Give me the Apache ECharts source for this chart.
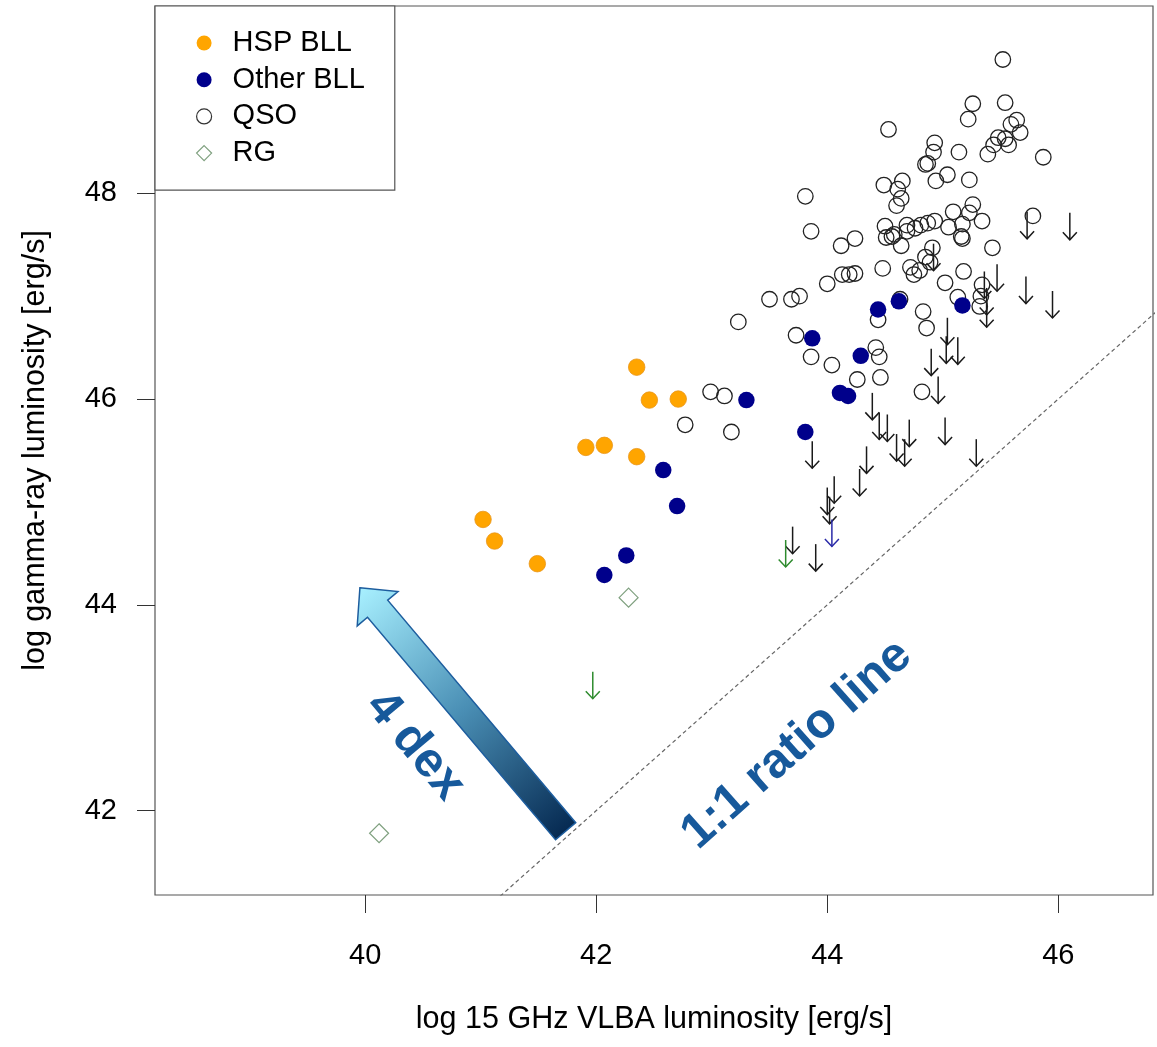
<!DOCTYPE html>
<html><head><meta charset="utf-8">
<script src="https://cdn.jsdelivr.net/npm/echarts@6/dist/echarts.min.js"></script>
<style>html,body{margin:0;padding:0;background:#fff}#c{width:1157px;height:1047px}</style>
</head><body><div id="c"></div>
<script>
const xTicks = [40, 42, 44, 46];
const yTicks = [42, 44, 46, 48];
const xRange = [38.18, 46.82];
const yRange = [41.18, 49.82];

const hspBll = [[42.35,46.31],[42.46,45.99],[42.71,46.00],[41.91,45.53],[42.07,45.55],[42.35,45.44],[41.02,44.83],[41.12,44.62],[41.49,44.40]];

const otherBll = [[44.62,46.95],[44.44,46.87],[45.17,46.91],[43.87,46.59],[44.29,46.42],[44.11,46.06],[44.18,46.03],[43.81,45.68],[43.30,45.99],[42.58,45.31],[42.70,44.96],[42.26,44.48],[42.07,44.29]];

const qso = [[45.52,49.30],[45.26,48.87],[45.54,48.88],[45.22,48.72],[45.59,48.67],[45.64,48.71],[45.67,48.59],[44.53,48.62],[44.93,48.49],[44.92,48.40],[45.14,48.40],[45.48,48.54],[45.54,48.53],[45.57,48.47],[45.44,48.47],[45.39,48.38],[45.87,48.35],[44.85,48.28],[44.87,48.29],[45.04,48.18],[44.94,48.12],[45.23,48.13],[44.49,48.08],[44.65,48.12],[44.61,48.04],[44.64,47.95],[44.60,47.88],[43.81,47.97],[45.26,47.89],[45.09,47.82],[45.23,47.81],[45.34,47.73],[45.78,47.78],[43.86,47.63],[44.50,47.68],[44.51,47.57],[44.56,47.58],[44.58,47.60],[44.69,47.69],[44.69,47.63],[44.76,47.66],[44.81,47.69],[44.87,47.71],[44.93,47.73],[45.05,47.67],[45.17,47.70],[45.16,47.58],[45.17,47.56],[44.64,47.49],[44.12,47.49],[44.24,47.56],[44.91,47.47],[45.43,47.47],[44.85,47.38],[44.89,47.33],[44.48,47.27],[44.72,47.28],[44.75,47.21],[44.80,47.25],[45.02,47.13],[45.18,47.24],[44.00,47.12],[44.13,47.21],[44.19,47.21],[44.24,47.22],[45.34,47.11],[43.50,46.97],[43.69,46.97],[43.76,47.00],[45.13,46.99],[45.33,47.00],[45.32,46.90],[44.63,46.97],[44.44,46.77],[44.83,46.85],[44.86,46.69],[43.73,46.62],[43.86,46.41],[44.04,46.33],[44.42,46.50],[44.45,46.41],[44.26,46.19],[44.46,46.21],[44.82,46.07],[43.23,46.75],[42.99,46.07],[43.11,46.03],[42.77,45.75],[43.17,45.68]];

const rg = [[42.28,44.07],[40.12,41.78]];

const qsoUpper = [[45.73,47.82],[46.10,47.81],[44.92,47.51],[45.47,47.31],[45.36,47.24],[45.38,47.08],[45.38,46.96],[45.72,47.19],[45.95,47.05],[45.04,46.79],[45.03,46.61],[45.13,46.60],[44.90,46.49],[44.96,46.22],[44.39,46.06],[44.45,45.87],[44.52,45.85],[44.71,45.80],[45.02,45.82],[44.60,45.66],[44.67,45.61],[45.29,45.61],[43.87,45.59],[44.34,45.54],[44.28,45.32],[44.06,45.25],[44.00,45.14],[44.02,45.05],[43.70,44.76],[43.90,44.59]];
const otherBllUpper = [[44.04,44.83]];
const rgUpper = [[43.64,44.63],[41.97,43.35]];

const ratioLine = [[38,38],[47,47]];
const dexArrow = [[41.735,41.80,39.954,44.166]];
const dexLabel = [[40.43,42.63]];
const ratioLabel = [[43.737,42.642]];

const FONT = 'Liberation Sans';
const chart = echarts.init(document.getElementById('c'), null, {renderer:'canvas'});

function ulRender(color){
  return function(params, api){
    const p = api.coord([api.value(0), api.value(1)]);
    const L = 27, hw = 7, hh = 7.5;
    return {type:'group', children:[
      {type:'line', shape:{x1:p[0], y1:p[1], x2:p[0], y2:p[1]+L}, style:{stroke:color, lineWidth:1.5}},
      {type:'polyline', shape:{points:[[p[0]-hw,p[1]+L-hh],[p[0],p[1]+L],[p[0]+hw,p[1]+L-hh]]}, style:{stroke:color, lineWidth:1.5, fill:null}}
    ]};
  };
}
function textRender(txt, rot){
  return function(params, api){
    const p = api.coord([api.value(0), api.value(1)]);
    return {type:'text', x:p[0], y:p[1], rotation:rot,
      style:{text:txt, font:'bold 49px "Liberation Sans"', fill:'#17599b', align:'center', verticalAlign:'middle'}};
  };
}

const option = {
  animation:false,
  grid:{left:155, right:4, top:6, bottom:152, show:true, borderColor:'#555', borderWidth:1.2, backgroundColor:'transparent', outerBoundsMode:'none'},
  legend:{
    left:155, top:6, orient:'vertical', selectedMode:false,
    padding:[22,30,22,41], itemWidth:15, itemHeight:15, itemGap:6.7,
    backgroundColor:'#fff', borderColor:'#555', borderWidth:1.2,
    textStyle:{fontFamily:FONT, fontSize:29, color:'#000', lineHeight:30, padding:[0,0,0,16]},
    data:[
      {name:'HSP BLL', icon:'circle', itemStyle:{color:'#FFA500', borderWidth:0, opacity:1}},
      {name:'Other BLL', icon:'circle', itemStyle:{color:'#00008B', borderWidth:0, opacity:1}},
      {name:'QSO', icon:'circle', itemStyle:{color:'#fff', borderColor:'#333', borderWidth:1.2, opacity:1}},
      {name:'RG', icon:'diamond', itemStyle:{color:'#fff', borderColor:'#7fa07f', borderWidth:1.2, opacity:1}}
    ]
  },
  xAxis:{type:'value', min:xRange[0], max:xRange[1],
    splitLine:{show:false}, axisLine:{show:false},
    axisTick:{show:true, length:18, customValues:xTicks, lineStyle:{color:'#333', width:1}},
    axisLabel:{customValues:xTicks, margin:46, fontSize:29, fontFamily:FONT, color:'#000'},
    name:'log 15 GHz VLBA luminosity [erg/s]', nameLocation:'middle', nameGap:109,
    nameTextStyle:{fontFamily:FONT, fontSize:30.5, color:'#000'}},
  yAxis:{type:'value', min:yRange[0], max:yRange[1],
    splitLine:{show:false}, axisLine:{show:false},
    axisTick:{show:true, length:18, customValues:yTicks, lineStyle:{color:'#333', width:1}},
    axisLabel:{customValues:yTicks, margin:38, fontSize:29, fontFamily:FONT, color:'#000'},
    name:'log gamma-ray luminosity [erg/s]', nameLocation:'middle', nameGap:104, nameRotate:90,
    nameTextStyle:{fontFamily:FONT, fontSize:30.5, color:'#000'}},
  series:[
    {type:'line', data:ratioLine, symbol:'none', silent:true, clip:true,
      lineStyle:{color:'#666', width:1.2, type:[4,3]}},
    {name:'QSO', type:'scatter', data:qso, symbol:'circle', symbolSize:15.5,
      itemStyle:{color:'rgba(255,255,255,0)', borderColor:'#222', borderWidth:1.3, opacity:1}, emphasis:{disabled:true}},
    {name:'HSP BLL', type:'scatter', data:hspBll, symbol:'circle', symbolSize:16.5,
      itemStyle:{color:'#FFA500', borderColor:'#e8961a', borderWidth:0.8, opacity:1}, emphasis:{disabled:true}},
    {name:'Other BLL', type:'scatter', data:otherBll, symbol:'circle', symbolSize:16.5,
      itemStyle:{color:'#00008B', opacity:1}, emphasis:{disabled:true}},
    {name:'RG', type:'scatter', data:rg, symbol:'diamond', symbolSize:19,
      itemStyle:{color:'rgba(255,255,255,0)', borderColor:'#7fa07f', borderWidth:1.2, opacity:1}, emphasis:{disabled:true}},
    {name:'QSO UL', type:'custom', data:qsoUpper, encode:{x:0, y:1}, renderItem:ulRender('#1a1a1a'), silent:true},
    {name:'Other BLL UL', type:'custom', data:otherBllUpper, encode:{x:0, y:1}, renderItem:ulRender('#2a2aa8'), silent:true},
    {name:'RG UL', type:'custom', data:rgUpper, encode:{x:0, y:1}, renderItem:ulRender('#2e8b2e'), silent:true},
    {name:'dex arrow', type:'custom', data:dexArrow, encode:{x:[0,2], y:[1,3]}, silent:true,
      renderItem:function(params, api){
        const t = api.coord([api.value(0), api.value(1)]);
        const h = api.coord([api.value(2), api.value(3)]);
        const dx = h[0]-t[0], dy = h[1]-t[1], len = Math.hypot(dx, dy);
        const ux = dx/len, uy = dy/len, nx = -uy, ny = ux;
        const sw = 13.2, hw = 26.7, hl = 27.4;
        const bx = h[0]-ux*hl, by = h[1]-uy*hl;
        const pts = [h, [bx+nx*hw, by+ny*hw], [bx+nx*sw, by+ny*sw], [t[0]+nx*sw, t[1]+ny*sw],
          [t[0]-nx*sw, t[1]-ny*sw], [bx-nx*sw, by-ny*sw], [bx-nx*hw, by-ny*hw]];
        return {type:'polygon', shape:{points:pts},
          style:{fill:new echarts.graphic.LinearGradient(t[0], t[1], h[0], h[1],
            [{offset:0, color:'#062a52'}, {offset:0.5, color:'#4a8fb5'}, {offset:1, color:'#a8f0ff'}], true),
            stroke:'#1d5d9e', lineWidth:1.5}};
      }},
    {name:'dex text', type:'custom', data:dexLabel, encode:{x:0, y:1}, silent:true, renderItem:textRender('4 dex', -0.875)},
    {name:'ratio text', type:'custom', data:ratioLabel, encode:{x:0, y:1}, silent:true, renderItem:textRender('1:1 ratio line', 0.726)}
  ]
};
chart.setOption(option);
</script>
</body></html>
